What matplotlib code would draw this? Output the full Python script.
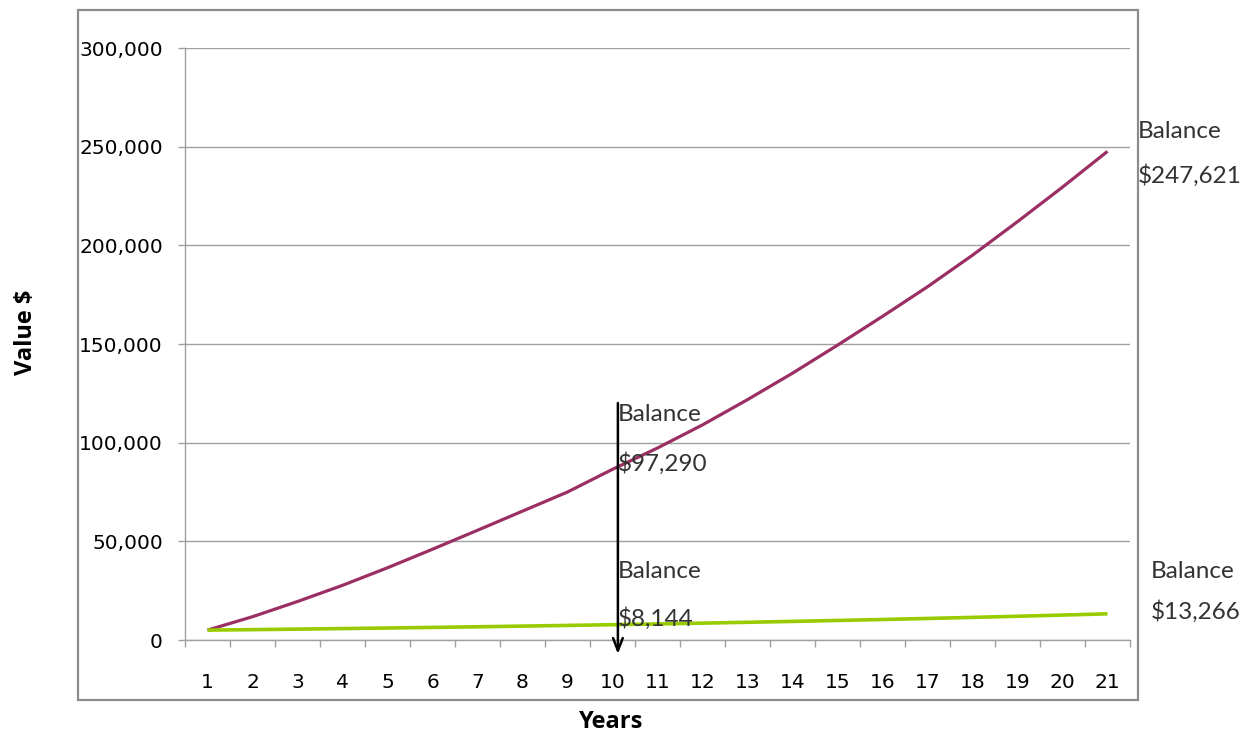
import matplotlib
matplotlib.use("Agg")
import matplotlib.pyplot as plt
from matplotlib.patches import Rectangle
from matplotlib.ticker import FuncFormatter, MultipleLocator, FixedLocator

years = list(range(1, 22))
year_labels = [str(y) for y in years]

# Balance of the higher-return account, year by year
balance_high = [5000, 11800, 19500, 27700, 36600, 46000, 55600, 65300, 75000, 86500,
                97290, 109000, 121800, 135200, 149400, 164000, 179000, 195000,
                212000, 229500, 247621]

# Balance of the lower-return account, year by year
balance_low = [5000, 5250, 5513, 5788, 6078, 6381, 6700, 7036, 7387, 7757,
               8144, 8552, 8979, 9428, 9900, 10395, 10914, 11460, 12033,
               12635, 13266]

callout_high_mid = "$97,290"
callout_low_mid = "$8,144"
callout_high_end = "$247,621"
callout_low_end = "$13,266"

PURPLE = "#9B2F63"
GREEN = "#99CC00"
GRID = "#A0A0A0"
NOTE = "#333333"

fig = plt.figure(figsize=(12.48, 7.35), dpi=100)
fig.patch.set_facecolor("white")

# outer chart frame
fig.patches.append(Rectangle((78 / 1248, 1 - 700 / 735), (1138 - 78) / 1248, (700 - 10) / 735,
                             transform=fig.transFigure, fill=False,
                             edgecolor="#8C8C8C", linewidth=1.6))

ax = fig.add_axes([185 / 1248, 1 - 640 / 735, (1130 - 185) / 1248, (640 - 48) / 735])

ax.plot(years, balance_high, color=PURPLE, linewidth=2.3, solid_capstyle="butt", zorder=3)
ax.plot(years, balance_low, color=GREEN, linewidth=2.6, solid_capstyle="butt", zorder=3)

ax.set_xlim(0.5, 21.5)
ax.set_ylim(0, 300000)

ax.yaxis.set_major_locator(MultipleLocator(50000))
ax.yaxis.set_major_formatter(FuncFormatter(lambda v, p: f"{int(v):,}"))
ax.grid(axis="y", color=GRID, linewidth=1.0)
ax.set_axisbelow(True)

ax.xaxis.set_major_locator(FixedLocator(years))
ax.set_xticklabels(year_labels)
ax.xaxis.set_minor_locator(FixedLocator([y - 0.5 for y in years] + [21.5]))
ax.tick_params(axis="x", which="major", length=0, pad=24, labelsize=14.5)
ax.tick_params(axis="x", which="minor", length=5, width=1, color=GRID, direction="out")
ax.tick_params(axis="y", which="major", length=5, width=1, color=GRID, pad=11, labelsize=14.5)

for s in ("top", "right"):
    ax.spines[s].set_visible(False)
for s in ("left", "bottom"):
    ax.spines[s].set_color(GRID)
    ax.spines[s].set_linewidth(1.0)

ax.set_xlabel("Years", fontsize=17, fontweight="bold", family="Open Sans")
ax.xaxis.set_label_coords(0.451, -0.118)
ax.set_ylabel("Value $", fontsize=17, fontweight="bold", family="Open Sans")
ax.yaxis.set_label_coords(-0.156, 0.519)

# year-10 marker arrow
ax.annotate("", xy=(10.12, -8500), xytext=(10.12, 121500),
            arrowprops=dict(arrowstyle="->,head_length=0.9,head_width=0.35",
                            color="black", linewidth=1.8),
            annotation_clip=False, zorder=4)

note_kw = dict(fontsize=17.5, family="Lato", color=NOTE, va="center", ha="left",
               clip_on=False, zorder=5)
ax.text(10.12, 114500, "Balance", **note_kw)
ax.text(10.12, 89200, callout_high_mid, **note_kw)
ax.text(10.12, 34500, "Balance", **note_kw)
ax.text(10.12, 11000, callout_low_mid, **note_kw)
ax.text(21.68, 257500, "Balance", **note_kw)
ax.text(21.68, 235200, callout_high_end, **note_kw)
ax.text(21.97, 34500, "Balance", **note_kw)
ax.text(21.97, 14200, callout_low_end, **note_kw)

fig.savefig("out.png", dpi=100)
